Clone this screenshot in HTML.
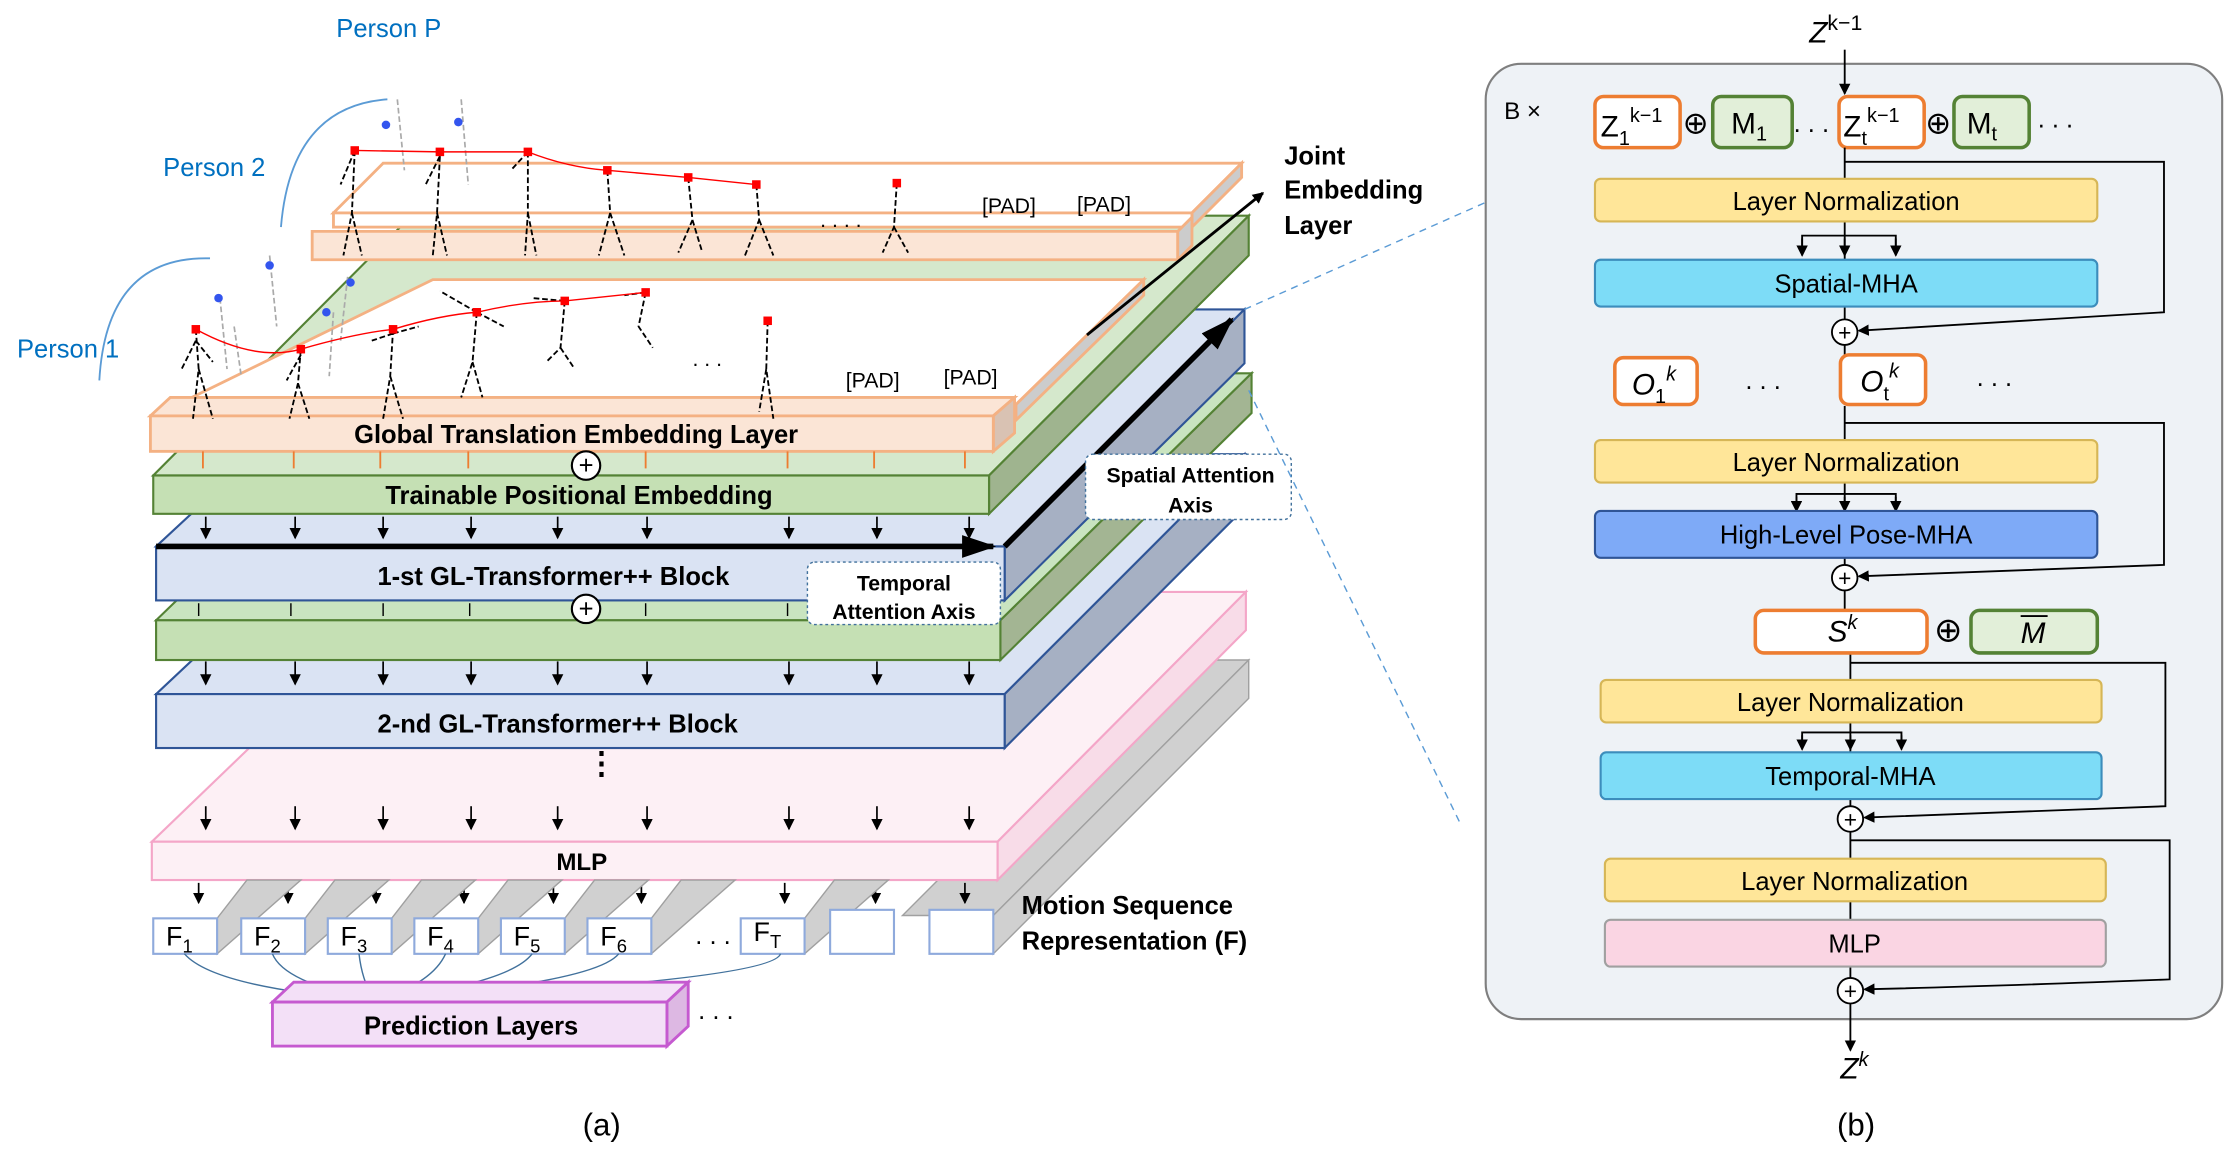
<!DOCTYPE html>
<html><head><meta charset="utf-8"><style>
html,body{margin:0;padding:0;background:#fff}
svg{display:block}
text{font-family:"Liberation Sans",sans-serif}
</style></head><body>
<svg width="2225" height="1171" viewBox="0 0 1568 825" preserveAspectRatio="none" xmlns="http://www.w3.org/2000/svg">
<defs>
<marker id="ah" markerWidth="8" markerHeight="8" refX="7" refY="4" orient="auto" markerUnits="userSpaceOnUse"><path d="M0,0 L8,4 L0,8 z" fill="#000"/></marker>
<marker id="ab" markerWidth="24" markerHeight="16" refX="22" refY="8" orient="auto" markerUnits="userSpaceOnUse"><path d="M0,0 L24,8 L0,16 z" fill="#000"/></marker>
<marker id="ag" markerWidth="8" markerHeight="8" refX="7" refY="4" orient="auto" markerUnits="userSpaceOnUse"><path d="M0,0 L8,4 L0,8 z" fill="#41719c"/></marker>
</defs>

<g stroke="#a0a0a0" fill="#d0d0d0">
<polygon points="636,645 700,645 880,465 816,465"/>
<polygon points="700,645 700,672 880,492 880,465"/>
</g>
<polygon points="107,593 703,593 878,417 290,417" fill="#fdf0f5" stroke="#f4a6c8" stroke-width="1.5"/>
<polygon points="703,593 703,620 878,444 878,417" fill="#f8dce8" stroke="#f4a6c8" stroke-width="1.5"/>
<rect x="107" y="593" width="596" height="27" fill="#fdf0f5" stroke="#f4a6c8" stroke-width="1.5"/>
<text x="410" y="613" font-size="17" font-weight="bold" text-anchor="middle">MLP</text>

<polygon points="110,489 708,489 877,320 290,320" fill="#dae3f3" stroke="#2f5597" stroke-width="1.5"/>
<polygon points="708,489 708,527 877,358 877,320" fill="#a6b0c3" stroke="#2f5597" stroke-width="1.5"/>
<rect x="110" y="489" width="598" height="38" fill="#dae3f3" stroke="#2f5597" stroke-width="1.5"/>
<text x="393" y="516" font-size="18" font-weight="bold" text-anchor="middle">2-nd GL-Transformer++ Block</text>

<polygon points="110,437 705,437 882,263 290,263" fill="#c9e4c0" stroke="#548235" stroke-width="1.5"/>
<polygon points="705,437 705,465 882,291 882,263" fill="#a3b593" stroke="#548235" stroke-width="1.5"/>
<rect x="110" y="437" width="595" height="28" fill="#c5e0b4" stroke="#548235" stroke-width="1.5"/>

<polygon points="110,385 708,385 877,218 290,218" fill="#dae3f3" stroke="#2f5597" stroke-width="1.5"/>
<polygon points="708,385 708,423 877,256 877,218" fill="#a6b0c3" stroke="#2f5597" stroke-width="1.5"/>
<rect x="110" y="385" width="598" height="38" fill="#dae3f3" stroke="#2f5597" stroke-width="1.5"/>
<text x="390" y="412" font-size="18" font-weight="bold" text-anchor="middle">1-st GL-Transformer++ Block</text>
<line x1="110" y1="385" x2="700" y2="385" stroke="#000" stroke-width="4" marker-end="url(#ab)"/>
<line x1="708" y1="385" x2="868" y2="225" stroke="#000" stroke-width="4" marker-end="url(#ab)"/>

<polygon points="108,335 697,335 880,152 290,152" fill="#d5e8cc" stroke="#548235" stroke-width="1.5"/>
<polygon points="697,335 697,362 880,180 880,152" fill="#9fb48f" stroke="#548235" stroke-width="1.5"/>
<rect x="108" y="335" width="589" height="27" fill="#c5e0b4" stroke="#548235" stroke-width="1.5"/>
<text x="408" y="355" font-size="18" font-weight="bold" text-anchor="middle">Trainable Positional Embedding</text>

<g stroke="#f4b183" stroke-width="2" fill="#fbe5d6">
<polygon points="270,115 875,115 840,150 235,150" fill="#fff"/>
<rect x="235" y="150" width="605" height="10" fill="#fff"/>
<polygon points="840,150 875,115 875,125 840,160" fill="#ccc"/>
<polygon points="220,163 830,163 830,183 220,183"/>
<polygon points="830,163 840,153 840,173 830,183" fill="#ccc"/>
<polygon points="305,197 806,197 716,285 125,285" fill="#fff"/>
<polygon points="806,197 806,208 716,296 716,285" fill="#ccc"/>
<rect x="125" y="285" width="590" height="10" fill="#fff"/>
</g>
<polygon points="106,293 700,293 715,280 120,280" fill="#fbe5d6" stroke="#f4b183" stroke-width="2"/>
<polygon points="700,293 715,280 715,305 700,318" fill="#d9c2b3" stroke="#f4b183" stroke-width="2"/>
<rect x="106" y="293" width="594" height="25" fill="#fbe5d6" stroke="#f4b183" stroke-width="2"/>
<text x="406" y="312" font-size="18" font-weight="bold" text-anchor="middle">Global Translation Embedding Layer</text>
<g stroke="#ed7d31" stroke-width="1.3">
<line x1="143" y1="318" x2="143" y2="330"/><line x1="207" y1="318" x2="207" y2="330"/><line x1="268" y1="318" x2="268" y2="330"/><line x1="330" y1="318" x2="330" y2="330"/><line x1="455" y1="318" x2="455" y2="330"/><line x1="555" y1="318" x2="555" y2="330"/><line x1="616" y1="318" x2="616" y2="330"/><line x1="680" y1="318" x2="680" y2="330"/>
</g>
<circle cx="413" cy="328" r="10" fill="#fff" stroke="#000" stroke-width="1.5"/><text x="413" y="334" font-size="18" text-anchor="middle">+</text>
<circle cx="413" cy="429" r="10" fill="#fff" stroke="#000" stroke-width="1.5"/><text x="413" y="435" font-size="18" text-anchor="middle">+</text>

<g stroke="#000" stroke-width="1.2" marker-end="url(#ah)">
<line x1="145" y1="364" x2="145" y2="379"/><line x1="208" y1="364" x2="208" y2="379"/><line x1="270" y1="364" x2="270" y2="379"/><line x1="332" y1="364" x2="332" y2="379"/><line x1="393" y1="364" x2="393" y2="379"/><line x1="456" y1="364" x2="456" y2="379"/><line x1="556" y1="364" x2="556" y2="379"/><line x1="618" y1="364" x2="618" y2="379"/><line x1="683" y1="364" x2="683" y2="379"/>
<line x1="145" y1="466" x2="145" y2="482"/><line x1="208" y1="466" x2="208" y2="482"/><line x1="270" y1="466" x2="270" y2="482"/><line x1="332" y1="466" x2="332" y2="482"/><line x1="393" y1="466" x2="393" y2="482"/><line x1="456" y1="466" x2="456" y2="482"/><line x1="556" y1="466" x2="556" y2="482"/><line x1="618" y1="466" x2="618" y2="482"/><line x1="683" y1="466" x2="683" y2="482"/>
<line x1="145" y1="568" x2="145" y2="584"/><line x1="208" y1="568" x2="208" y2="584"/><line x1="270" y1="568" x2="270" y2="584"/><line x1="332" y1="568" x2="332" y2="584"/><line x1="393" y1="568" x2="393" y2="584"/><line x1="456" y1="568" x2="456" y2="584"/><line x1="556" y1="568" x2="556" y2="584"/><line x1="618" y1="568" x2="618" y2="584"/><line x1="683" y1="568" x2="683" y2="584"/>
<line x1="140" y1="622" x2="140" y2="636"/><line x1="203" y1="622" x2="203" y2="636"/><line x1="265" y1="622" x2="265" y2="636"/><line x1="327" y1="622" x2="327" y2="636"/><line x1="390" y1="622" x2="390" y2="636"/><line x1="452" y1="622" x2="452" y2="636"/><line x1="553" y1="622" x2="553" y2="636"/><line x1="617" y1="622" x2="617" y2="636"/><line x1="680" y1="622" x2="680" y2="636"/>
</g>
<g stroke="#000" stroke-width="1"><line x1="140" y1="425" x2="140" y2="434"/><line x1="205" y1="425" x2="205" y2="434"/><line x1="270" y1="425" x2="270" y2="434"/><line x1="331" y1="425" x2="331" y2="434"/><line x1="455" y1="425" x2="455" y2="434"/><line x1="555" y1="425" x2="555" y2="434"/></g>
<text x="424" y="545" font-size="22" font-weight="bold" text-anchor="middle">⋮</text>

<g fill="#d0d0d0" stroke="#a0a0a0">
<polygon points="153,647 153,672 212,620 174,620"/>
<polygon points="215,647 215,672 274,620 236,620"/>
<polygon points="276,647 276,672 335,620 297,620"/>
<polygon points="337,647 337,672 396,620 358,620"/>
<polygon points="398,647 398,672 457,620 419,620"/>
<polygon points="459,647 459,672 518,620 480,620"/>
<polygon points="567,647 567,672 626,620 588,620"/>
</g>
<g stroke="#8faadc" stroke-width="1.5" fill="#fff">
<rect x="108" y="647" width="45" height="25"/><rect x="170" y="647" width="45" height="25"/><rect x="231" y="647" width="45" height="25"/><rect x="292" y="647" width="45" height="25"/><rect x="353" y="647" width="45" height="25"/><rect x="414" y="647" width="45" height="25"/><rect x="522" y="647" width="45" height="25"/><rect x="585" y="641" width="45" height="31"/><rect x="655" y="641" width="45" height="31"/>
</g>
<g font-family="Liberation Serif" font-size="19">
<text x="117" y="666">F<tspan font-size="13" dy="5">1</tspan></text><text x="179" y="666">F<tspan font-size="13" dy="5">2</tspan></text><text x="240" y="666">F<tspan font-size="13" dy="5">3</tspan></text><text x="301" y="666">F<tspan font-size="13" dy="5">4</tspan></text><text x="362" y="666">F<tspan font-size="13" dy="5">5</tspan></text><text x="423" y="666">F<tspan font-size="13" dy="5">6</tspan></text><text x="531" y="663">F<tspan font-size="13" dy="5">T</tspan></text>
</g>
<text x="490" y="665" font-size="18">. . .</text>
<text x="720" y="644" font-size="18" font-weight="bold">Motion Sequence</text>
<text x="720" y="669" font-size="18" font-weight="bold">Representation (F)</text>

<g stroke="#41719c" stroke-width="1" fill="none" marker-end="url(#ag)">
<path d="M130,672 Q150,695 255,704"/><path d="M192,672 Q200,692 260,704"/><path d="M253,672 Q255,690 263,704"/><path d="M314,672 Q305,692 268,704"/><path d="M375,672 Q360,692 272,704"/><path d="M436,672 Q420,692 276,704"/><path d="M550,672 Q545,690 280,704"/>
</g>
<polygon points="192,706 470,706 485,692 207,692" fill="#f3e0f7" stroke="#c55ad0" stroke-width="2"/>
<polygon points="470,706 485,692 485,723 470,737" fill="#ddb8e3" stroke="#c55ad0" stroke-width="2"/>
<rect x="192" y="706" width="278" height="31" fill="#f3e0f7" stroke="#c55ad0" stroke-width="2"/>
<text x="332" y="729" font-size="18" font-weight="bold" text-anchor="middle">Prediction Layers</text>
<text x="492" y="718" font-size="18">. . .</text>

<rect x="569" y="396" width="136" height="44" rx="5" fill="#fff" stroke="#41719c" stroke-dasharray="2,2"/>
<text x="637" y="416" font-size="15" font-weight="bold" text-anchor="middle">Temporal</text>
<text x="637" y="436" font-size="15" font-weight="bold" text-anchor="middle">Attention Axis</text>
<rect x="765" y="320" width="145" height="46" rx="5" fill="#fff" stroke="#41719c" stroke-dasharray="2,2"/>
<text x="839" y="340" font-size="15" font-weight="bold" text-anchor="middle">Spatial Attention</text>
<text x="839" y="361" font-size="15" font-weight="bold" text-anchor="middle">Axis</text>
<text x="905" y="116" font-size="18" font-weight="bold">Joint</text>
<text x="905" y="140" font-size="18" font-weight="bold">Embedding</text>
<text x="905" y="165" font-size="18" font-weight="bold">Layer</text>
<line x1="766" y1="236" x2="890" y2="136" stroke="#000" stroke-width="2" marker-end="url(#ah)"/>

<g fill="#0070c0" font-size="18">
<text x="237" y="26">Person P</text><text x="115" y="124">Person 2</text><text x="12" y="252">Person 1</text>
</g>
<g fill="none" stroke="#5b9bd5" stroke-width="1.3">
<path d="M70,268 Q75,180 148,182"/><path d="M198,160 Q205,75 273,70"/>
</g>
<g font-size="15"><text x="596" y="273">[PAD]</text><text x="665" y="271">[PAD]</text><text x="692" y="150">[PAD]</text><text x="759" y="149">[PAD]</text><text x="488" y="258">. . .</text><text x="578" y="160">. . . .</text></g>
<g stroke="#000" stroke-width="1.3" stroke-dasharray="4,2" fill="none">
<path d="M138,232 L140,260 L136,295 M140,260 L150,295 M138,240 L128,260 M138,240 L150,255"/>
<path d="M212,246 L210,270 L204,295 M210,270 L218,295 M212,250 L202,268"/>
<path d="M277,232 L275,265 L270,295 M275,265 L284,295 M277,235 L295,230 M277,235 L262,240"/>
<path d="M336,220 L333,255 L325,280 M333,255 L340,280 M336,220 L310,205 M336,220 L355,230"/>
<path d="M398,212 L395,245 L385,255 M395,245 L405,260 M398,212 L375,210"/>
<path d="M455,206 L450,230 L460,245 M455,206 L440,208"/>
<path d="M541,226 L540,260 L545,295 M540,260 L535,290"/>
<path d="M250,106 L248,150 L242,180 M248,150 L255,180 M250,106 L240,130"/>
<path d="M310,110 L308,150 L305,180 M308,150 L315,180 M310,110 L300,130"/>
<path d="M372,107 L372,150 L370,180 M372,150 L378,180 M372,107 L360,120"/>
<path d="M428,120 L430,150 L422,180 M430,150 L440,180"/>
<path d="M485,125 L488,155 L478,178 M488,155 L495,178"/>
<path d="M533,130 L535,155 L525,180 M535,155 L545,180"/>
<path d="M632,129 L630,160 L622,178 M630,160 L640,178"/>
</g>
<g stroke="#aaa" stroke-width="1.2" stroke-dasharray="4,2" fill="none">
<path d="M155,210 L160,260 M165,230 L170,265 M190,180 L195,230 M245,195 L240,240 M235,220 L232,265 M280,70 L285,120 M325,70 L330,130"/>
</g>
<g fill="#3355ee"><circle cx="154" cy="210" r="3"/><circle cx="190" cy="187" r="3"/><circle cx="230" cy="220" r="3"/><circle cx="247" cy="199" r="3"/><circle cx="272" cy="88" r="3"/><circle cx="323" cy="86" r="3"/></g>
<path d="M138,232 Q180,255 212,246 Q250,235 277,232 Q310,222 336,220 Q370,212 398,212 L455,206" fill="none" stroke="#f00" stroke-width="1"/>
<path d="M250,106 L310,107 L372,107 Q400,118 428,120 L485,125 L533,130" fill="none" stroke="#f00" stroke-width="1"/>
<g fill="#f00"><rect x="135" y="229" width="6" height="6"/><rect x="209" y="243" width="6" height="6"/><rect x="274" y="229" width="6" height="6"/><rect x="333" y="217" width="6" height="6"/><rect x="395" y="209" width="6" height="6"/><rect x="452" y="203" width="6" height="6"/><rect x="538" y="223" width="6" height="6"/><rect x="247" y="103" width="6" height="6"/><rect x="307" y="104" width="6" height="6"/><rect x="369" y="104" width="6" height="6"/><rect x="425" y="117" width="6" height="6"/><rect x="482" y="122" width="6" height="6"/><rect x="530" y="127" width="6" height="6"/><rect x="629" y="126" width="6" height="6"/></g>

<text x="424" y="800" font-size="22" text-anchor="middle">(a)</text>
<text x="1308" y="800" font-size="22" text-anchor="middle">(b)</text>

<line x1="877" y1="218" x2="1046" y2="143" stroke="#5b9bd5" stroke-dasharray="5,4"/>
<line x1="880" y1="275" x2="1030" y2="582" stroke="#5b9bd5" stroke-dasharray="5,4"/>

<rect x="1047" y="45" width="519" height="673" rx="25" fill="#eef2f6" stroke="#7f7f7f" stroke-width="1.5"/>
<text x="1275" y="30" font-family="Liberation Serif" font-style="italic" font-size="21">Z<tspan font-size="15" dy="-9" font-style="normal">k−1</tspan></text>
<line x1="1300" y1="35" x2="1300" y2="66" stroke="#000" stroke-width="1.3" marker-end="url(#ah)"/>
<text x="1060" y="84" font-size="17">B ×</text>
<g stroke-width="2.5">
<rect x="1124" y="68" width="60" height="36" rx="6" fill="#fff" stroke="#ed7d31"/>
<rect x="1207" y="68" width="56" height="36" rx="6" fill="#e2efd9" stroke="#548235"/>
<rect x="1296" y="68" width="60" height="36" rx="6" fill="#fff" stroke="#ed7d31"/>
<rect x="1377" y="68" width="53" height="36" rx="6" fill="#e2efd9" stroke="#548235"/>
</g>
<g font-family="Liberation Serif" font-size="21">
<text x="1128" y="96">Z<tspan font-size="14" dy="6">1</tspan><tspan font-size="14" dy="-16">k−1</tspan></text>
<text x="1220" y="94">M<tspan font-size="14" dy="5">1</tspan></text>
<text x="1299" y="96">Z<tspan font-size="14" dy="6">t</tspan><tspan font-size="14" dy="-16">k−1</tspan></text>
<text x="1386" y="94">M<tspan font-size="14" dy="5">t</tspan></text>
</g>
<g font-size="22" text-anchor="middle"><text x="1195" y="94">⊕</text><text x="1366" y="94">⊕</text></g>
<text x="1264" y="93" font-size="18">. . .</text><text x="1436" y="90" font-size="18">. . .</text>

<g stroke="#000" stroke-width="1.3" fill="none">
<line x1="1300" y1="104" x2="1300" y2="126"/>
<line x1="1300" y1="156" x2="1300" y2="225"/>
<path d="M1270,176 L1270,166 L1336,166 L1336,176"/>
<line x1="1300" y1="243" x2="1300" y2="250"/>
<line x1="1300" y1="286" x2="1300" y2="310"/>
<line x1="1300" y1="340" x2="1300" y2="399"/>
<path d="M1266,356 L1266,348 L1336,348 L1336,356"/>
<line x1="1300" y1="416" x2="1300" y2="430"/>
<line x1="1304" y1="460" x2="1304" y2="479"/>
<line x1="1304" y1="509" x2="1304" y2="569"/>
<path d="M1270,524 L1270,516 L1340,516 L1340,524"/>
<line x1="1304" y1="586" x2="1304" y2="605"/>
<line x1="1304" y1="635" x2="1304" y2="648"/>
<line x1="1304" y1="681" x2="1304" y2="690"/>
</g>
<g stroke="#000" stroke-width="1.3" fill="none" marker-end="url(#ah)">
<path d="M1300,114 L1525,114 L1525,220 Q1400,228 1310,233"/>
<path d="M1300,298 L1525,298 L1525,398 Q1400,403 1310,406"/>
<path d="M1304,467 L1526,467 L1526,568 Q1400,573 1314,576"/>
<path d="M1304,592 L1529,592 L1529,690 Q1400,695 1314,697"/>
</g>
<g stroke="#000" stroke-width="1.3" marker-end="url(#ah)">
<line x1="1270" y1="168" x2="1270" y2="180"/><line x1="1300" y1="168" x2="1300" y2="180"/><line x1="1336" y1="168" x2="1336" y2="180"/>
<line x1="1266" y1="350" x2="1266" y2="360"/><line x1="1300" y1="350" x2="1300" y2="360"/><line x1="1336" y1="350" x2="1336" y2="360"/>
<line x1="1270" y1="518" x2="1270" y2="528"/><line x1="1304" y1="518" x2="1304" y2="528"/><line x1="1340" y1="518" x2="1340" y2="528"/>
<line x1="1304" y1="707" x2="1304" y2="740"/>
</g>
<g stroke-width="1.5">
<rect x="1124" y="126" width="354" height="30" rx="4" fill="#ffe699" stroke="#d6b656"/>
<rect x="1124" y="183" width="354" height="33" rx="4" fill="#7ddcf7" stroke="#3c8dbc"/>
<rect x="1124" y="310" width="354" height="30" rx="4" fill="#ffe699" stroke="#d6b656"/>
<rect x="1124" y="360" width="354" height="33" rx="4" fill="#7eaaf7" stroke="#2f5597"/>
<rect x="1128" y="479" width="353" height="30" rx="4" fill="#ffe699" stroke="#d6b656"/>
<rect x="1128" y="530" width="353" height="33" rx="4" fill="#7ddcf7" stroke="#3c8dbc"/>
<rect x="1131" y="605" width="353" height="30" rx="4" fill="#ffe699" stroke="#d6b656"/>
<rect x="1131" y="648" width="353" height="33" rx="4" fill="#fad5e3" stroke="#a0a0a0"/>
</g>
<g font-size="18" text-anchor="middle">
<text x="1301" y="148">Layer Normalization</text>
<text x="1301" y="206">Spatial-MHA</text>
<text x="1301" y="332">Layer Normalization</text>
<text x="1301" y="383">High-Level Pose-MHA</text>
<text x="1304" y="501">Layer Normalization</text>
<text x="1304" y="553">Temporal-MHA</text>
<text x="1307" y="627">Layer Normalization</text>
<text x="1307" y="671">MLP</text>
</g>
<g fill="#fff" stroke="#000" stroke-width="1.3">
<circle cx="1300" cy="234" r="9"/><circle cx="1300" cy="407" r="9"/><circle cx="1304" cy="577" r="9"/><circle cx="1304" cy="698" r="9"/>
</g>
<g font-size="16" text-anchor="middle"><text x="1300" y="240">+</text><text x="1300" y="413">+</text><text x="1304" y="583">+</text><text x="1304" y="704">+</text></g>
<g stroke-width="2.5">
<rect x="1138" y="252" width="58" height="33" rx="6" fill="#fff" stroke="#ed7d31"/>
<rect x="1297" y="250" width="60" height="35" rx="6" fill="#fff" stroke="#ed7d31"/>
<rect x="1237" y="430" width="121" height="30" rx="6" fill="#fff" stroke="#ed7d31"/>
<rect x="1389" y="430" width="89" height="30" rx="6" fill="#e2efd9" stroke="#548235"/>
</g>
<g font-family="Liberation Serif" font-style="italic" font-size="21">
<text x="1150" y="278">O<tspan font-size="14" dy="6" font-style="normal">1</tspan><tspan font-size="14" dy="-16">k</tspan></text>
<text x="1311" y="276">O<tspan font-size="14" dy="6" font-style="normal">t</tspan><tspan font-size="14" dy="-16">k</tspan></text>
<text x="1288" y="452">S<tspan font-size="14" dy="-9">k</tspan></text>
<text x="1424" y="453">M</text>
<text x="1297" y="760">Z<tspan font-size="14" dy="-9">k</tspan></text>
</g>
<line x1="1424" y1="434" x2="1443" y2="434" stroke="#000" stroke-width="1.3"/>
<text x="1373" y="452" font-size="24" text-anchor="middle">⊕</text>
<text x="1230" y="274" font-size="18">. . .</text><text x="1393" y="272" font-size="18">. . .</text>
</svg>
</body></html>
